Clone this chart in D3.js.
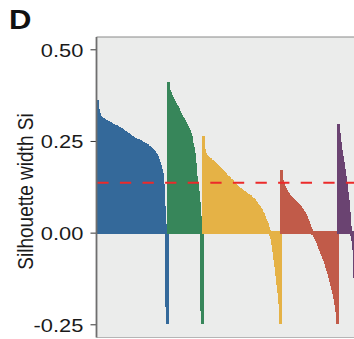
<!DOCTYPE html>
<html>
<head>
<meta charset="utf-8">
<script src="https://cdn.jsdelivr.net/npm/d3@7"></script>
<style>
  html, body { margin: 0; padding: 0; background: #ffffff; }
  svg { display: block; }
</style>
</head>
<body>
<svg id="chart" width="354" height="339"></svg>
<script>
// ---- Data (silhouette widths, sorted within each cluster) ----
const clusters = ["1", "2", "3", "4", "5"];
const clusterColors = ["#34699a", "#37865a", "#e5b246", "#c15b49", "#6a4371"];

const sil1 = [
  0.359,0.335,0.322,0.316,0.313,0.310,0.308,0.306,0.305,0.303,
  0.302,0.300,0.299,0.297,0.296,0.294,0.293,0.291,0.290,0.289,
  0.287,0.286,0.284,0.283,0.281,0.279,0.277,0.275,0.273,0.271,
  0.269,0.267,0.265,0.263,0.261,0.259,0.257,0.256,0.255,0.253,
  0.252,0.251,0.249,0.248,0.246,0.245,0.243,0.242,0.240,0.239,
  0.237,0.234,0.232,0.229,0.227,0.224,0.222,0.218,0.215,0.211,
  0.205,0.198,0.190,0.181,0.171,0.160,0.130,0.070,0.020,
  -0.200,-0.245
];
const sil2 = [
  0.407,0.385,0.379,0.373,0.367,0.361,0.356,0.351,0.346,0.341,
  0.336,0.329,0.323,0.317,0.312,0.309,0.304,0.299,0.293,0.288,
  0.282,0.276,0.269,0.261,0.241,0.231,0.214,0.186,0.151,0.131,
  0.111,0.081,0.041,
  -0.210,-0.245
];
const sil3 = [
  0.259,0.224,0.214,0.209,0.206,0.203,0.201,0.199,0.196,0.194,
  0.191,0.188,0.186,0.183,0.180,0.177,0.175,0.172,0.169,0.167,
  0.164,0.161,0.158,0.155,0.152,0.150,0.147,0.144,0.142,0.139,
  0.136,0.133,0.130,0.127,0.124,0.121,0.119,0.117,0.115,0.113,
  0.111,0.109,0.107,0.105,0.103,0.101,0.099,0.098,0.095,0.092,
  0.090,0.087,0.084,0.080,0.076,0.073,0.069,0.065,0.060,0.054,
  0.049,0.042,0.035,0.028,0.022,0.012,0.004,
  -0.005,-0.015,-0.030,-0.050,-0.070,-0.090,-0.115,-0.140,-0.160,-0.190,-0.245
];
const sil4 = [
  0.167,0.140,0.132,0.124,0.117,0.112,0.108,0.104,0.100,0.097,
  0.094,0.091,0.088,0.086,0.083,0.080,0.077,0.074,0.071,0.068,
  0.064,0.060,0.056,0.052,0.047,0.041,0.034,0.027,0.020,0.013,
  0.006,
  -0.002,-0.004,-0.008,-0.014,-0.020,-0.026,-0.033,-0.040,-0.047,-0.054,
  -0.061,-0.068,-0.075,-0.083,-0.092,-0.101,-0.110,-0.120,-0.131,-0.142,
  -0.153,-0.165,-0.178,-0.193,-0.212,-0.245
];
const sil5 = [
  0.292,0.268,0.245,0.222,0.205,0.188,0.171,0.151,0.131,0.108,
  0.086,0.053,0.016,
  -0.005,-0.020,-0.045,-0.120,-0.190,-0.240,-0.260
];
const clusterValues = [sil1, sil2, sil3, sil4, sil5];

const averageSilhouette = 0.136;
const yTickValues = [-0.25, 0, 0.25, 0.5];
const yTickLabels = ["-0.25", "0.00", "0.25", "0.50"];
const yAxisTitle = "Silhouette width Si";
const panelTag = "D";

// ---- Build rows ----
const rows = [];
clusterValues.forEach((vals, ci) => {
  vals.forEach(v => rows.push({ cluster: clusters[ci], ci, value: v }));
});
rows.forEach((r, i) => r.index = i);

// ---- Layout ----
const svg = d3.select("#chart");
const panel = { left: 96.5, top: 37, right: 420, bottom: 337.5 };
const stretch = 1.15;
const font = "'Liberation Sans', Arial, Helvetica, sans-serif";

const x = d3.scaleLinear().domain([0, rows.length]).range([97, 97 + rows.length]);
const y = d3.scaleLinear().domain([-0.25, 0.5]).range([324.3, 49.3]);
const color = d3.scaleOrdinal().domain(clusters).range(clusterColors);

// panel background
svg.append("rect")
  .attr("x", panel.left).attr("y", panel.top)
  .attr("width", panel.right - panel.left).attr("height", panel.bottom - panel.top)
  .attr("fill", "#ebeceb");

// bars
const bw = x(1) - x(0);
svg.append("g").attr("shape-rendering", "crispEdges")
  .selectAll("rect").data(rows).join("rect")
  .attr("x", d => x(d.index))
  .attr("width", bw)
  .attr("y", d => y(Math.max(0, d.value)))
  .attr("height", d => Math.abs(y(d.value) - y(0)))
  .attr("fill", d => color(d.cluster))
  .attr("stroke", d => color(d.cluster))
  .attr("stroke-width", 2.5);

// average silhouette line
svg.append("line")
  .attr("x1", panel.left + 0.8).attr("x2", panel.right)
  .attr("y1", y(averageSilhouette)).attr("y2", y(averageSilhouette))
  .attr("stroke", "#ec2a2a").attr("stroke-width", 2.2)
  .attr("stroke-dasharray", "11.3,11.3");

// panel border
svg.append("line").attr("x1", panel.left).attr("x2", panel.right)
  .attr("y1", panel.top).attr("y2", panel.top)
  .attr("stroke", "#8a8a8a").attr("stroke-width", 1.2);
svg.append("line").attr("x1", panel.left).attr("x2", panel.right)
  .attr("y1", panel.bottom).attr("y2", panel.bottom)
  .attr("stroke", "#b5b5b5").attr("stroke-width", 1.2);

// y axis
const yAxis = d3.axisLeft(y)
  .tickValues(yTickValues)
  .tickFormat((d, i) => yTickLabels[i])
  .tickSize(6)
  .tickSizeOuter(0);
const gy = svg.append("g").attr("transform", `translate(${panel.left},0)`).call(yAxis);
gy.select(".domain").remove();
gy.selectAll(".tick line").attr("stroke", "#333").attr("stroke-width", 1);
gy.selectAll(".tick text")
  .attr("x", null).attr("dy", null)
  .attr("transform", `translate(-13.2,6.8) scale(${stretch},1)`)
  .attr("text-anchor", "end")
  .attr("font-family", font).attr("font-size", 19).attr("fill", "#1a1a1a");
svg.append("line").attr("x1", panel.left).attr("x2", panel.left)
  .attr("y1", panel.top).attr("y2", panel.bottom)
  .attr("stroke", "#6e6e6e").attr("stroke-width", 1.8);

// y title
svg.append("text")
  .attr("transform", `translate(33,191.5) scale(${stretch},1) rotate(-90)`)
  .attr("text-anchor", "middle")
  .attr("font-family", font).attr("font-size", 19).attr("fill", "#1a1a1a")
  .text(yAxisTitle);

// panel tag
svg.append("text")
  .attr("transform", `translate(9,29.3) scale(${stretch},1)`)
  .attr("font-family", font).attr("font-size", 27).attr("font-weight", "bold")
  .attr("fill", "#111")
  .text(panelTag);
</script>
</body>
</html>
